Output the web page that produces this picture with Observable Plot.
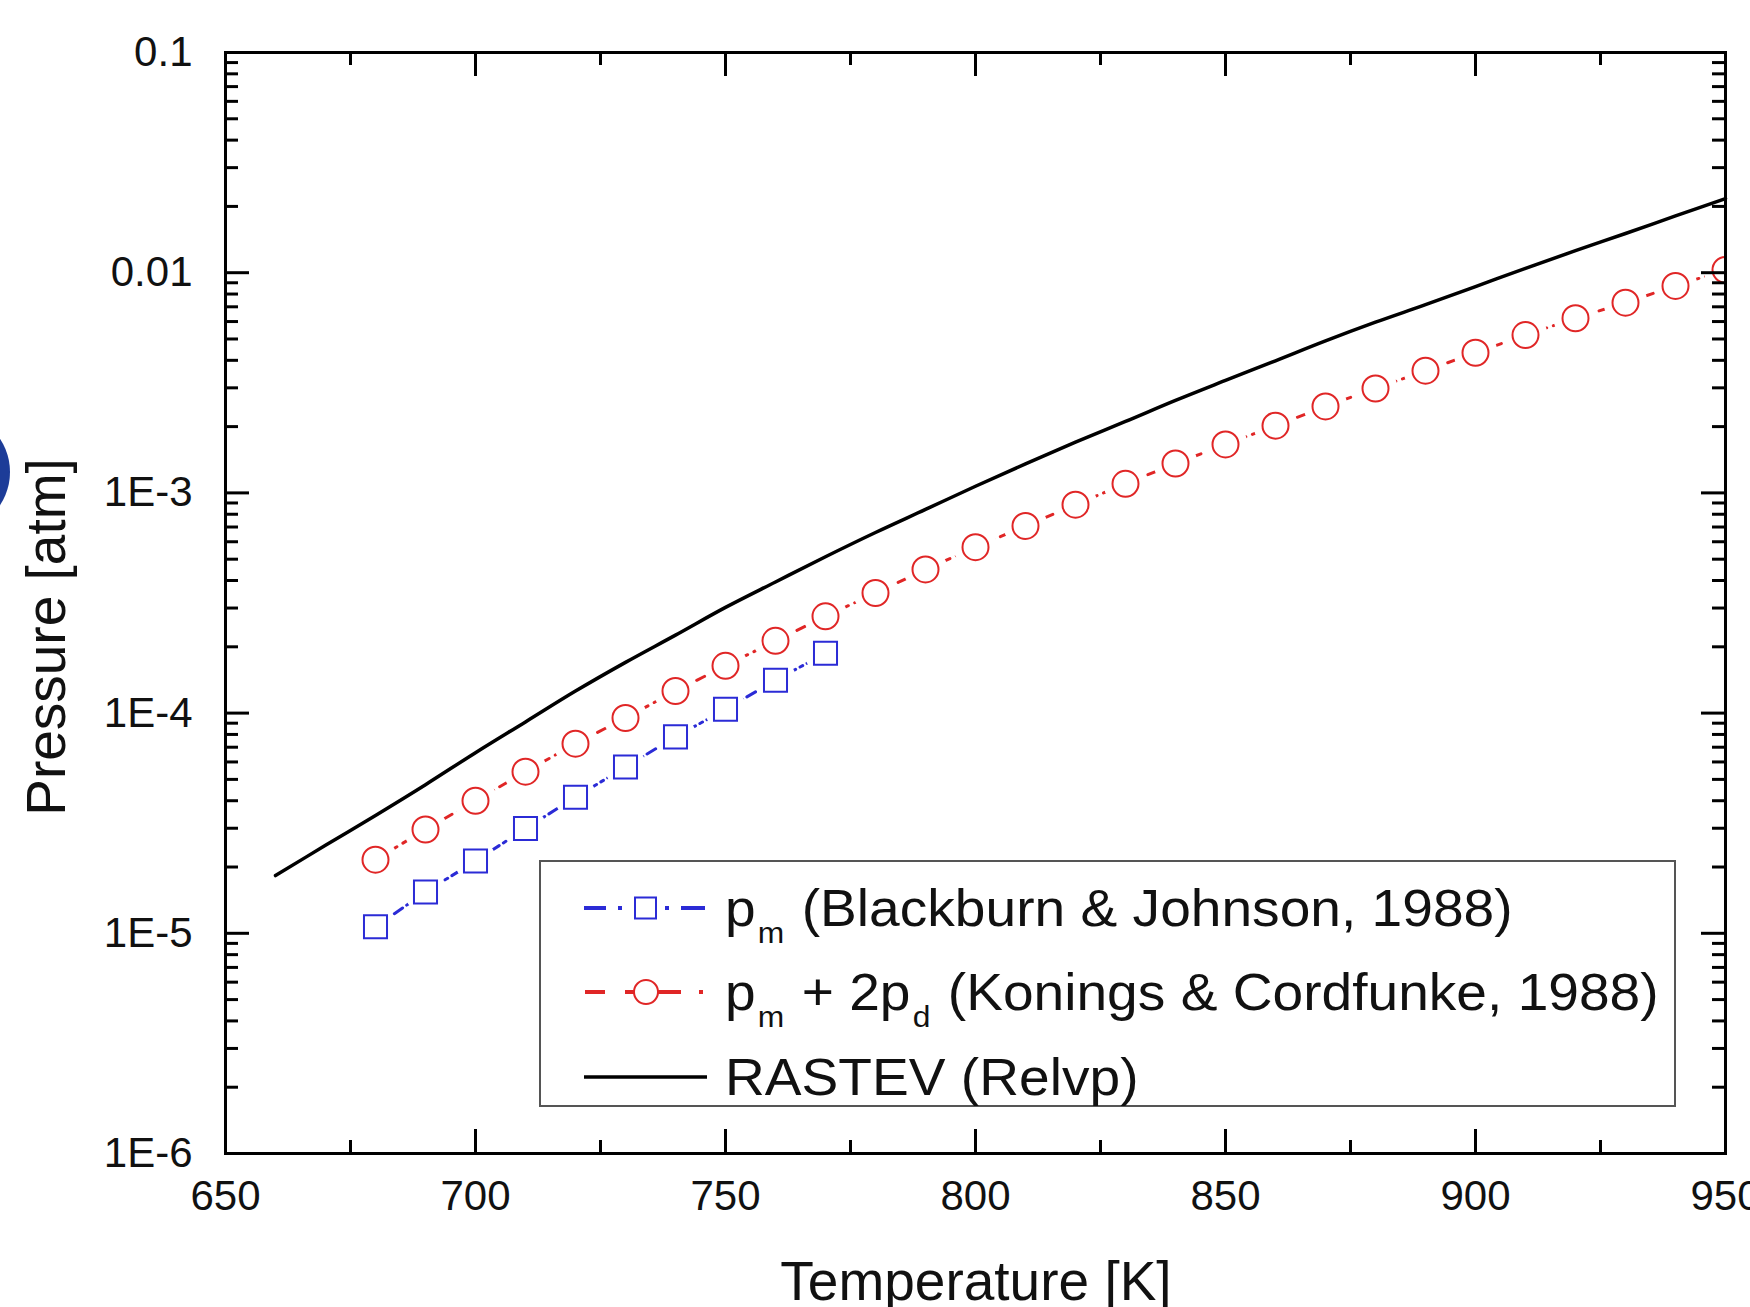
<!DOCTYPE html>
<html>
<head>
<meta charset="utf-8">
<script src="https://cdn.jsdelivr.net/npm/d3@7"></script>
<script src="https://cdn.jsdelivr.net/npm/@observablehq/plot@0.6"></script>
<style>
  html, body { margin: 0; padding: 0; background: #fff; }
  #wrap { position: relative; width: 1750px; height: 1307px; overflow: hidden;
          font-family: "Liberation Sans", Arial, sans-serif; color: #111; }
  #chart { position: absolute; left: 0; top: 0; }
  .title { position: absolute; font-size: 55px; white-space: nowrap; line-height: 1; }
  #xtitle { left: 976px; top: 1254px; transform: translateX(-50%); }
  #ytitle { left: 19px; top: 637px; transform-origin: 0 0; transform: rotate(-90deg) translateX(-50%); }
  #legend { position: absolute; left: 539px; top: 860px; width: 1137px; height: 247px;
            box-sizing: border-box; border: 2px solid #555; background: #fff; }
  .row { position: absolute; left: 0; height: 60px; }
  .row svg { position: absolute; left: 43px; top: 10px; }
  .row .txt { position: absolute; left: 184px; top: 0; font-size: 52px; line-height: 60px; white-space: nowrap;
              transform-origin: 0 50%; transform: scaleX(1.06); }
  .row .txt sub { font-size: 30px; vertical-align: -0.55em; margin: 0 2px 0 2px; }
  #blob { position: absolute; left: -110px; top: 412px; width: 120px; height: 120px; border-radius: 50%; background: #1d3c98; }
</style>
</head>
<body>
<div id="wrap">
  <div id="chart"></div>
  <div id="blob"></div>
  <div class="title" id="xtitle">Temperature [K]</div>
  <div class="title" id="ytitle">Pressure [atm]</div>
  <div id="legend"></div>
</div>
<script>
// ---- data ----
const tempRastev = [660, 670, 680, 690, 700, 710, 720, 730, 740, 750, 760, 770, 780, 790, 800,
                    810, 820, 830, 840, 850, 860, 870, 880, 890, 900, 910, 920, 930, 940, 950];
const pRastev = [1.828e-5, 2.51e-5, 3.43e-5, 4.73e-5, 6.61e-5, 9.12e-5, 1.259e-4, 1.70e-4, 2.26e-4, 3.02e-4,
                 3.94e-4, 5.13e-4, 6.61e-4, 8.41e-4, 1.072e-3, 1.355e-3, 1.70e-3, 2.11e-3, 2.63e-3, 3.24e-3,
                 3.98e-3, 4.90e-3, 5.96e-3, 7.16e-3, 8.65e-3, 1.047e-2, 1.259e-2, 1.507e-2, 1.81e-2, 2.17e-2];

const tempKonings = [680, 690, 700, 710, 720, 730, 740, 750, 760, 770, 780, 790, 800, 810,
                     820, 830, 840, 850, 860, 870, 880, 890, 900, 910, 920, 930, 940, 950];
const pKonings = [2.16e-5, 2.96e-5, 4.0e-5, 5.42e-5, 7.26e-5, 9.5e-5, 1.26e-4, 1.64e-4, 2.13e-4, 2.75e-4,
                  3.51e-4, 4.49e-4, 5.67e-4, 7.08e-4, 8.84e-4, 1.10e-3, 1.36e-3, 1.66e-3, 2.02e-3, 2.47e-3,
                  2.98e-3, 3.59e-3, 4.33e-3, 5.21e-3, 6.21e-3, 7.31e-3, 8.71e-3, 1.03e-2];

const tempBlackburn = [680, 690, 700, 710, 720, 730, 740, 750, 760, 770];
const pBlackburn = [1.07e-5, 1.54e-5, 2.13e-5, 2.99e-5, 4.15e-5, 5.69e-5, 7.80e-5, 1.04e-4, 1.41e-4, 1.87e-4];

const xMajorTicks = [650, 700, 750, 800, 850, 900, 950];
const xMinorTicks = [675, 725, 775, 825, 875, 925];
const xTickLabels = ["650", "700", "750", "800", "850", "900", "950"];
const yMajorTicks = [1e-6, 1e-5, 1e-4, 1e-3, 1e-2, 1e-1];
const yTickLabels = ["1E-6", "1E-5", "1E-4", "1E-3", "0.01", "0.1"];

const legendLabels = [
  {sym: "blue",  html: 'p<sub>m</sub> (Blackburn &amp; Johnson, 1988)'},
  {sym: "red",   html: 'p<sub>m</sub> + 2p<sub>d</sub> (Konings &amp; Cordfunke, 1988)'},
  {sym: "black", html: 'RASTEV (Relvp)'}
];

// ---- build tables ----
const rastev = tempRastev.map((T, i) => ({T, p: pRastev[i]}));
const konings = tempKonings.map((T, i) => ({T, p: pKonings[i]}));
const blackburn = tempBlackburn.map((T, i) => ({T, p: pBlackburn[i]}));
const yMinorTicks = [];
for (const m of yMajorTicks.slice(0, -1)) for (let k = 2; k <= 9; k++) yMinorTicks.push(m * k);
const xLab = new Map(xMajorTicks.map((d, i) => [d, xTickLabels[i]]));
const yLab = new Map(yMajorTicks.map((d, i) => [d, yTickLabels[i]]));

const RED = "#e02626", BLUE = "#2b2bd6";
const W = 1750, H = 1307, mL = 225, mR = 25, mT = 52, mB = 154;
const iW = W - mL - mR, iH = H - mT - mB;
const MAJ = 24, MIN = 13, TW = 3;

const chart = Plot.plot({
  width: W, height: H,
  marginLeft: mL, marginRight: mR, marginTop: mT, marginBottom: mB,
  style: {fontFamily: '"Liberation Sans", Arial, sans-serif', background: "transparent", color: "#111"},
  x: {type: "linear", domain: [650, 950]},
  y: {type: "log", domain: [1e-6, 0.1]},
  marks: [
    Plot.axisX(xMajorTicks, {tickSize: 0, tickPadding: 27, fontSize: 42, tickFormat: d => xLab.get(d), label: null}),
    Plot.axisY(yMajorTicks, {tickSize: 0, tickPadding: 33, fontSize: 42, tickFormat: d => yLab.get(d), label: null}),
    Plot.line(rastev, {x: "T", y: "p", stroke: "#000", strokeWidth: 3.5, curve: "catmull-rom"}),
    Plot.line(konings, {x: "T", y: "p", stroke: RED, strokeWidth: 3, strokeDasharray: "9,7"}),
    Plot.line(blackburn, {x: "T", y: "p", stroke: BLUE, strokeWidth: 3, strokeDasharray: "10,5,3,5"}),
    // white gaps around the symbols
    Plot.dot(konings, {x: "T", y: "p", r: 22, fill: "white", stroke: null, clip: true}),
    Plot.dot(blackburn, {x: "T", y: "p", r: 21, fill: "white", stroke: null}),
    Plot.dot(konings, {x: "T", y: "p", r: 13, stroke: RED, fill: "white", strokeWidth: 2, clip: true}),
    Plot.dot(blackburn, {x: "T", y: "p", r: 13, symbol: "square", stroke: BLUE, fill: "white", strokeWidth: 2}),
    // inward ticks, bottom/top
    Plot.ruleX(xMajorTicks, {insetTop: iH - MAJ, stroke: "#000", strokeWidth: TW}),
    Plot.ruleX(xMajorTicks, {insetBottom: iH - MAJ, stroke: "#000", strokeWidth: TW}),
    Plot.ruleX(xMinorTicks, {insetTop: iH - MIN, stroke: "#000", strokeWidth: TW}),
    Plot.ruleX(xMinorTicks, {insetBottom: iH - MIN, stroke: "#000", strokeWidth: TW}),
    // inward ticks, left/right
    Plot.ruleY(yMajorTicks, {insetRight: iW - MAJ, stroke: "#000", strokeWidth: TW}),
    Plot.ruleY(yMajorTicks, {insetLeft: iW - MAJ, stroke: "#000", strokeWidth: TW}),
    Plot.ruleY(yMinorTicks, {insetRight: iW - MIN, stroke: "#000", strokeWidth: TW}),
    Plot.ruleY(yMinorTicks, {insetLeft: iW - MIN, stroke: "#000", strokeWidth: TW}),
    Plot.frame({stroke: "#000", strokeWidth: TW})
  ]
});
document.getElementById("chart").appendChild(chart);

// ---- legend ----
const symSvg = {
  blue: `<svg width="130" height="40" viewBox="0 0 130 40">
     <line x1="0" y1="20" x2="22" y2="20" stroke="${BLUE}" stroke-width="4"/>
     <line x1="34" y1="20" x2="38" y2="20" stroke="${BLUE}" stroke-width="4"/>
     <rect x="51" y="9.5" width="21" height="21" fill="white" stroke="${BLUE}" stroke-width="2"/>
     <line x1="81" y1="20" x2="85" y2="20" stroke="${BLUE}" stroke-width="4"/>
     <line x1="97" y1="20" x2="121" y2="20" stroke="${BLUE}" stroke-width="4"/>
   </svg>`,
  red: `<svg width="130" height="40" viewBox="0 0 130 40">
     <line x1="1" y1="20" x2="21" y2="20" stroke="${RED}" stroke-width="4"/>
     <line x1="41" y1="20" x2="50" y2="20" stroke="${RED}" stroke-width="4"/>
     <circle cx="62" cy="20" r="12" fill="white" stroke="${RED}" stroke-width="2"/>
     <line x1="74" y1="20" x2="97" y2="20" stroke="${RED}" stroke-width="4"/>
     <line x1="115" y1="20" x2="119" y2="20" stroke="${RED}" stroke-width="4"/>
   </svg>`,
  black: `<svg width="130" height="40" viewBox="0 0 130 40">
     <line x1="0" y1="20" x2="123" y2="20" stroke="#000" stroke-width="3.5"/>
   </svg>`
};
const rowCenters = [46, 130, 215];
const legend = document.getElementById("legend");
legendLabels.forEach((L, i) => {
  const row = document.createElement("div");
  row.className = "row";
  row.style.top = (rowCenters[i] - 30) + "px";
  row.innerHTML = symSvg[L.sym] + `<span class="txt">${L.html}</span>`;
  legend.appendChild(row);
});
</script>
</body>
</html>
